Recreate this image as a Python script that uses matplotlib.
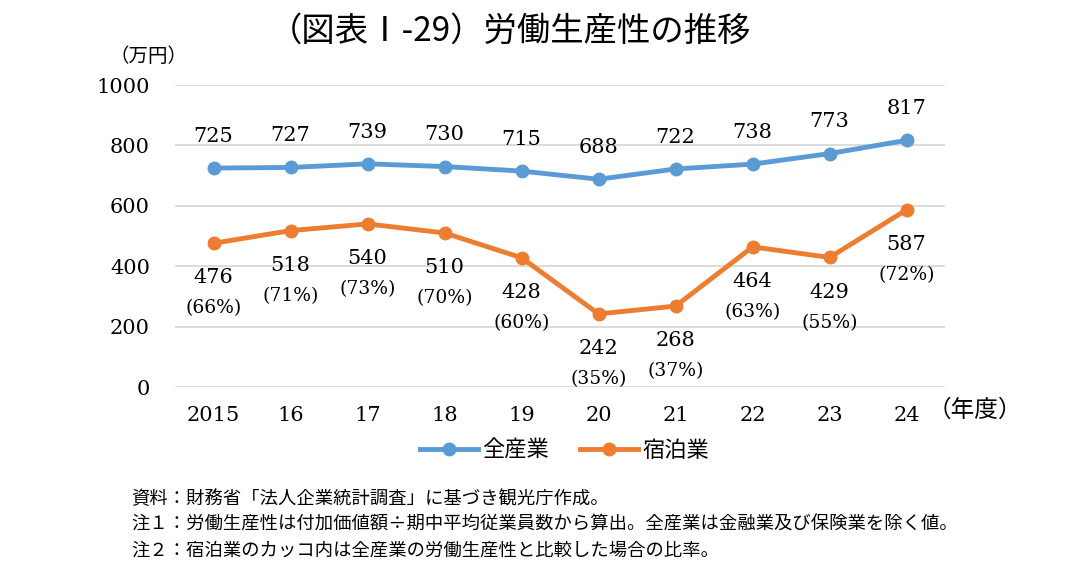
import matplotlib.pyplot as plt

plt.rcParams['font.family'] = ['Noto Sans CJK JP', 'DejaVu Sans']

# --- data ---
years = ['2015', '16', '17', '18', '19', '20', '21', '22', '23', '24']
all_industry = [725, 727, 739, 730, 715, 688, 722, 738, 773, 817]
lodging = [476, 518, 540, 510, 428, 242, 268, 464, 429, 587]
lodging_pct = ['66%', '71%', '73%', '70%', '60%', '35%', '37%', '63%', '55%', '72%']
yticks = [0, 200, 400, 600, 800, 1000]

notes = [
    '資料：財務省「法人企業統計調査」に基づき観光庁作成。',
    '注１：労働生産性は付加価値額÷期中平均従業員数から算出。全産業は金融業及び保険業を除く値。',
    '注２：宿泊業のカッコ内は全産業の労働生産性と比較した場合の比率。',
]

BLUE = '#5B9BD5'
ORANGE = '#ED7D31'
serif = ['DejaVu Serif']

fig = plt.figure(figsize=(10.74, 5.63), dpi=100)
ax = fig.add_axes([0.163, 0.3126, 0.717, 0.5364])

x = range(len(years))
ax.plot(x, all_industry, color=BLUE, lw=3.5, marker='o', ms=9, label='全産業', zorder=3)
ax.plot(x, lodging, color=ORANGE, lw=3.5, marker='o', ms=9, label='宿泊業', zorder=3)

# 全産業: ラベルは点の上
for i, v in enumerate(all_industry):
    ax.annotate(str(v), (i, v), xytext=(0, 16), textcoords='offset points',
                ha='center', va='bottom', fontsize=15, family=serif)

# 宿泊業: 値と比率を点の下に
for i, v in enumerate(lodging):
    ax.annotate(str(v), (i, v), xytext=(0, -25), textcoords='offset points',
                ha='center', va='center', fontsize=15, family=serif)
    ax.annotate('(' + lodging_pct[i] + ')', (i, v), xytext=(0, -47), textcoords='offset points',
                ha='center', va='center', fontsize=13.5, family=serif)

ax.set_xlim(-0.5, len(years) - 0.5)
ax.set_ylim(0, 1000)
ax.set_yticks(yticks)
ax.set_yticklabels([str(t) for t in yticks], family=serif, fontsize=15)
ax.set_xticks(list(x))
ax.set_xticklabels(years, family=serif, fontsize=15)
ax.tick_params(axis='both', length=0)
ax.tick_params(axis='x', pad=14)
ax.tick_params(axis='y', pad=18)
ax.grid(axis='y', color='#D9D9D9', lw=1.3)
ax.set_axisbelow(True)
for s in ax.spines.values():
    s.set_visible(False)

fig.text(0.475, 0.945, '（図表Ⅰ-29）労働生産性の推移', ha='center', va='center', fontsize=24)
fig.text(0.138, 0.9, '（万円）', ha='center', va='center', fontsize=14)
fig.text(0.908, 0.272, '（年度）', ha='center', va='center', fontsize=17)

ax.legend(loc='upper center', bbox_to_anchor=(0.506, -0.105), ncol=2, frameon=False,
          fontsize=16, handlelength=2.6, columnspacing=1.4, handletextpad=0.2)

for k, line in enumerate(notes):
    fig.text(0.122, 0.114 - k * 0.046, line, ha='left', va='center', fontsize=13.2)

fig.savefig('out.png', dpi=100)
